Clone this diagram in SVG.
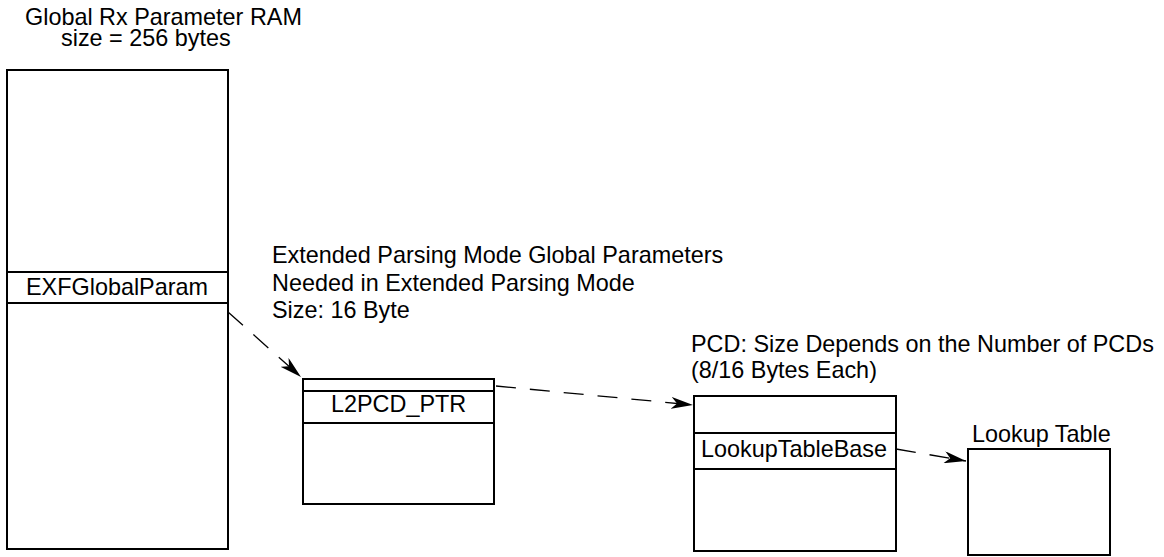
<svg xmlns="http://www.w3.org/2000/svg" width="1164" height="557" viewBox="0 0 1164 557">
  <style>
    .box { fill: #fff; stroke: #000; stroke-width: 2; }
    .div { stroke: #000; stroke-width: 2; }
    .lbl { font-family: "Liberation Sans", Arial, sans-serif; font-size: 23.4px; fill: #000; }
    .link { fill: none; stroke: #000; stroke-width: 1.3; stroke-dasharray: 20 14; }
  </style>
  <defs>
    <marker id="head" viewBox="0 0 22 12" refX="22" refY="6" markerWidth="22" markerHeight="12" markerUnits="userSpaceOnUse" orient="auto">
      <path d="M0,0 L22,6 L0,12 L6,6 Z" fill="#000"/>
    </marker>
  </defs>
  <rect width="1164" height="557" fill="#fff"/>

  <!-- Global Rx parameter RAM -->
  <g id="global-ram">
    <text class="lbl" x="25" y="25">Global Rx Parameter RAM</text>
    <text class="lbl" x="61" y="46">size = 256 bytes</text>
    <rect class="box" x="7" y="70" width="221" height="479"/>
    <line class="div" x1="7" y1="272" x2="228" y2="272"/>
    <line class="div" x1="7" y1="303" x2="228" y2="303"/>
    <text class="lbl" x="26" y="295">EXFGlobalParam</text>
  </g>

  <!-- Extended parsing mode global parameters -->
  <g id="ext-params">
    <text class="lbl" x="272" y="263">Extended Parsing Mode Global Parameters</text>
    <text class="lbl" x="272" y="291">Needed in Extended Parsing Mode</text>
    <text class="lbl" x="272" y="318">Size: 16 Byte</text>
    <rect class="box" x="303" y="379" width="191" height="125"/>
    <line class="div" x1="303" y1="391" x2="494" y2="391"/>
    <line class="div" x1="303" y1="423" x2="494" y2="423"/>
    <text class="lbl" x="331" y="412">L2PCD_PTR</text>
  </g>

  <!-- PCD -->
  <g id="pcd">
    <text class="lbl" x="691" y="352">PCD: Size Depends on the Number of PCDs</text>
    <text class="lbl" x="691" y="378">(8/16 Bytes Each)</text>
    <rect class="box" x="694" y="396" width="202" height="155"/>
    <line class="div" x1="694" y1="433" x2="896" y2="433"/>
    <line class="div" x1="694" y1="469" x2="896" y2="469"/>
    <text class="lbl" x="701" y="457">LookupTableBase</text>
  </g>

  <!-- Lookup table -->
  <g id="lookup-table">
    <text class="lbl" x="972" y="442">Lookup Table</text>
    <rect class="box" x="968" y="449" width="142" height="106"/>
  </g>

  <!-- Pointers between structures -->
  <g id="connectors">
    <line class="link" x1="228" y1="312" x2="301" y2="377" marker-end="url(#head)"/>
    <line class="link" x1="496" y1="386" x2="693" y2="405" marker-end="url(#head)"/>
    <line class="link" x1="896" y1="449" x2="966" y2="461" marker-end="url(#head)"/>
  </g>
</svg>
